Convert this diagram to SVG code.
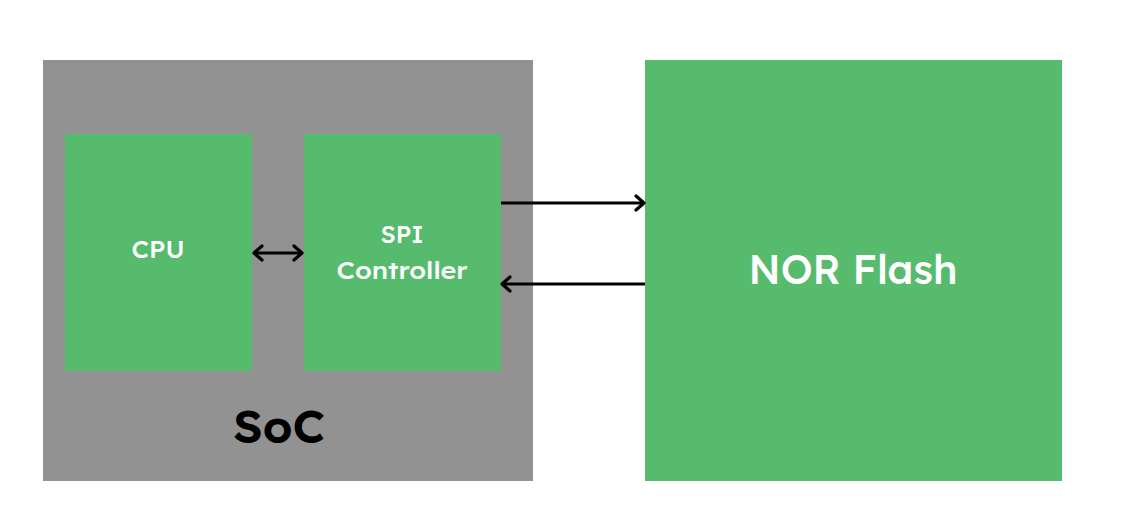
<svg xmlns="http://www.w3.org/2000/svg" width="1129" height="520" viewBox="0 0 1129 520">
<defs>
<marker id="arr" viewBox="0 0 14 18" refX="12" refY="9" markerWidth="14" markerHeight="18" markerUnits="userSpaceOnUse" orient="auto-start-reverse">
<path d="M4,2 L12,9 L4,16" fill="none" stroke="#000" stroke-width="3.2" stroke-linecap="round" stroke-linejoin="round"/>
</marker>
<style>
.green{fill:#57bb6e}
.wt{fill:#fff;font-family:"Lexend","Noto Sans","Liberation Sans",sans-serif;font-weight:500;text-anchor:middle}
.ln{stroke:#000;stroke-width:3;fill:none}
</style>
</defs>
<rect width="1129" height="520" fill="#fff"/>
<g id="soc">
<rect x="43" y="60" width="490" height="421" fill="#929292"/>
<text x="279" y="443" font-family="Lexend,'Noto Sans','Liberation Sans',sans-serif" font-weight="600" font-size="46" text-anchor="middle" fill="#000" textLength="92" lengthAdjust="spacingAndGlyphs">SoC</text>
</g>
<g id="cpu">
<rect class="green" x="65" y="134" width="187" height="237"/>
<text class="wt" x="158" y="258" font-size="23" textLength="53" lengthAdjust="spacingAndGlyphs">CPU</text>
</g>
<g id="spi">
<rect class="green" x="304" y="134" width="197" height="237"/>
<text class="wt" x="402" y="243" font-size="23" textLength="43" lengthAdjust="spacingAndGlyphs">SPI</text>
<text class="wt" x="402" y="279" font-size="23" textLength="131" lengthAdjust="spacingAndGlyphs">Controller</text>
</g>
<g id="nor">
<rect class="green" x="645" y="60" width="417" height="421"/>
<text class="wt" x="853" y="284" font-size="40" textLength="209" lengthAdjust="spacingAndGlyphs">NOR Flash</text>
</g>
<g id="connectors">
<line class="ln" x1="254" y1="253" x2="302" y2="253" marker-start="url(#arr)" marker-end="url(#arr)"/>
<line class="ln" x1="501" y1="203" x2="644" y2="203" marker-end="url(#arr)"/>
<line class="ln" x1="645" y1="284" x2="502" y2="284" marker-end="url(#arr)"/>
</g>
</svg>
